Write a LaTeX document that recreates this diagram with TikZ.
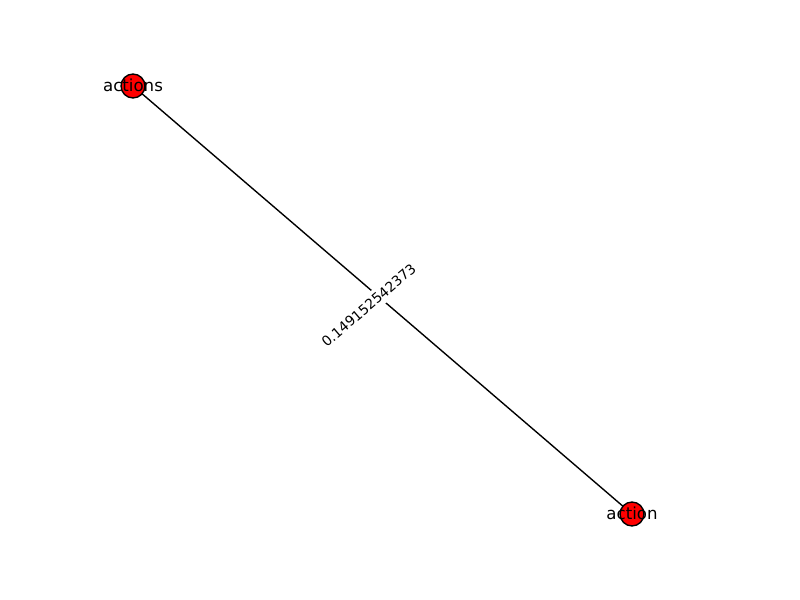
\documentclass[tikz,border=0pt]{standalone}
\usepackage{fontspec}
\setmainfont{DejaVu Sans}
\usetikzlibrary{backgrounds}

\tikzset{
    vertex/.style={draw=black, fill=red, circle, minimum size=17.3pt, inner sep=0pt, line width=1pt},
    weight/.style={fill=white, inner sep=3pt, font=\fontsize{10}{12}\selectfont, rotate=40.6}
}

\begin{document}
\begin{tikzpicture}[x=0.01in, y=-0.01in]
    \useasboundingbox (0,0) rectangle (800,600);
    
    % nodes
    \node[vertex, label={[font=\fontsize{12}{14}\selectfont, yshift=0.5pt]center:actions}] (actions) at (133,86) {};
    \node[vertex, label={[font=\fontsize{12}{14}\selectfont, yshift=0.5pt]center:action}] (action) at (632,514) {};
    
    % edge
    \begin{scope}[on background layer]
        \draw[line width=1pt] (actions.center) -- node[weight, xshift=-0.14in, yshift=0.05in] {0.149152542373} (action.center);
    \end{scope}
\end{tikzpicture}
\end{document}
